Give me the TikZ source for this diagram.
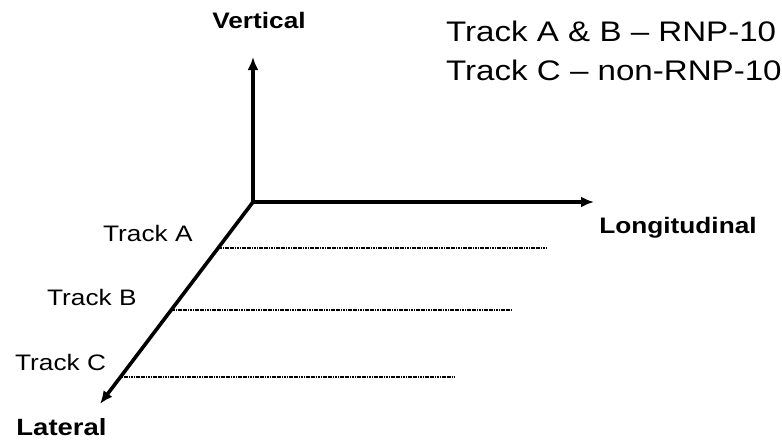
\documentclass[tikz,border=0pt]{standalone}
\usepackage{fontspec}
\setmainfont{Liberation Sans}[FakeStretch=1.17]
\usetikzlibrary{arrows.meta}
\begin{document}
\begin{tikzpicture}[x=1pt,y=-1pt,
  axis/.style={line width=3.6pt,-{Latex[length=13pt,width=11pt]}},
  track/.style={line width=1.8pt,dash pattern=on 1.2pt off 0.5pt},
  lbl/.style={inner sep=0pt,font=\fontsize{22.4}{26}\selectfont},
  axlbl/.style={inner sep=0pt,font=\fontsize{22.4}{26}\selectfont\bfseries},
  ttl/.style={inner sep=0pt,anchor=base west,font=\fontsize{28.3}{32}\selectfont}]
\useasboundingbox (0,0) rectangle (782,440);
\coordinate (O) at (253,202);
\coordinate (V) at (253,57);
\coordinate (Lo) at (594,202);
\coordinate (La) at (100,404);
\coordinate (A0) at (219.5,248);
\coordinate (A1) at (546,248);
\coordinate (B0) at (172.5,310);
\coordinate (B1) at (512,310);
\coordinate (C0) at (122,377);
\coordinate (C1) at (455,377);
\draw[axis] (O) -- (V);
\draw[axis] (O) -- (Lo);
\draw[axis] (O) -- (La);
\draw[track] (A0) -- (A1);
\draw[track] (B0) -- (B1);
\draw[track] (C0) -- (C1);
\node[axlbl,anchor=base] (tv) at (259,28) {Vertical};
\node[axlbl,anchor=base] (tlo) at (678,233) {Longitudinal};
\node[axlbl,anchor=base,font=\fontsize{23.5}{26}\selectfont\bfseries] (tla) at (61.5,435) {Lateral};
\node[lbl,anchor=base west] (ta) at (103,241) {Track A};
\node[lbl,anchor=base west] (tb) at (47,305) {Track B};
\node[lbl,anchor=base west] (tc) at (15,370) {Track C};
\node[ttl] (t1) at (446,41.5) {Track A \& B -- RNP-10};
\node[ttl] (t2) at (446,80) {Track C -- non-RNP-10};
\end{tikzpicture}
\end{document}
